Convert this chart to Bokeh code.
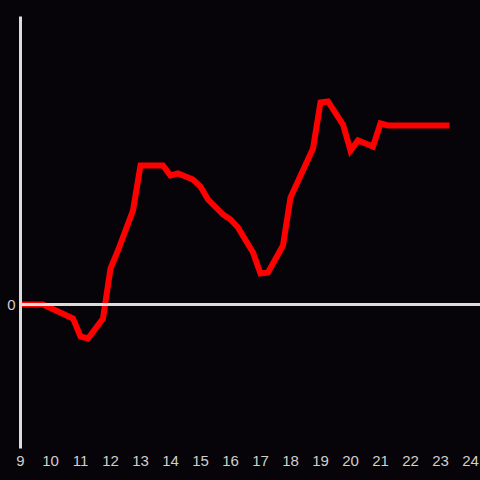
from bokeh.plotting import figure
from bokeh.models import FixedTicker, Span, Range1d
from bokeh.embed import file_html
from bokeh.resources import INLINE

hours = [9.0, 9.75, 10.75, 11.0, 11.25, 11.75, 12.0, 12.25, 12.75, 13.0, 13.75,
         14.0, 14.25, 14.75, 15.0, 15.25, 15.75, 16.0, 16.25, 16.75, 17.0, 17.25,
         17.75, 18.0, 18.75, 19.0, 19.25, 19.75, 20.0, 20.25, 20.75, 21.0, 21.25, 23.3]
values = [0.0, 0.0, -0.097, -0.222, -0.236, -0.097, 0.25, 0.375, 0.653, 0.965, 0.965,
          0.896, 0.910, 0.868, 0.819, 0.729, 0.625, 0.590, 0.535, 0.361, 0.215, 0.222,
          0.410, 0.743, 1.083, 1.403, 1.410, 1.25, 1.069, 1.139, 1.097, 1.257, 1.243, 1.243]
x_ticks = list(range(9, 25))
y_ticks = [0]

BG = "#060408"
AX = "#dcdcdc"
LBL = "#cfcfcf"

p = figure(width=480, height=480, output_backend="svg", toolbar_location=None,
           x_range=Range1d(9, 9 + 460 / 30), y_range=Range1d(-1, 2),
           min_border_left=20, min_border_right=0, min_border_top=16, min_border_bottom=32)
p.background_fill_color = BG
p.border_fill_color = BG
p.outline_line_color = None
p.xgrid.visible = False
p.ygrid.visible = False

p.add_layout(Span(location=0, dimension="width", line_color=AX, line_width=3))
p.line(hours, values, line_color="#ff0000", line_width=6, line_join="miter")

xa = p.xaxis[0]
xa.ticker = FixedTicker(ticks=x_ticks)
xa.axis_line_color = None
xa.major_tick_line_color = None
xa.minor_tick_line_color = None
xa.major_label_text_color = LBL
xa.major_label_text_font = "Liberation Sans"
xa.major_label_text_font_size = "15px"
xa.major_label_standoff = 1

ya = p.yaxis[0]
ya.ticker = FixedTicker(ticks=y_ticks)
ya.axis_line_color = AX
ya.axis_line_width = 3
ya.major_tick_line_color = None
ya.minor_tick_line_color = None
ya.major_tick_out = 0
ya.major_label_text_color = LBL
ya.major_label_text_font = "Liberation Sans"
ya.major_label_text_font_size = "15px"
ya.major_label_standoff = 5

html = file_html(p, INLINE)
html = html.replace("<head>", "<head><style>html,body{background:#060408;}</style>", 1)
open("out.html", "w").write(html)
